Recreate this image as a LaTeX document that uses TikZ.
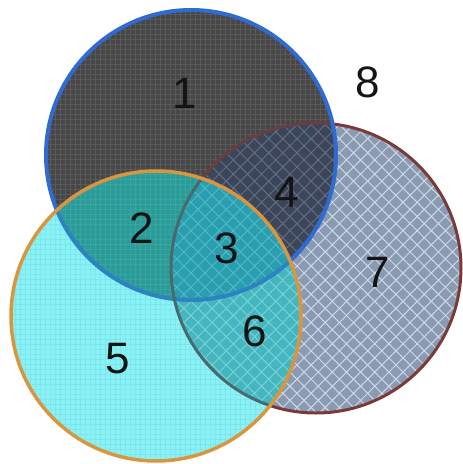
\documentclass[tikz,border=0pt]{standalone}
\usepackage{fontspec}
\setmainfont{Liberation Sans}
\usetikzlibrary{patterns.meta}
\definecolor{c7}{HTML}{8A9AB0}
\definecolor{h7}{HTML}{CDD8E8}
\definecolor{c1}{HTML}{474747}
\definecolor{g1}{HTML}{5A5A5A}
\definecolor{c4}{HTML}{3C4658}
\definecolor{h4}{HTML}{5F6E86}
\definecolor{c5}{HTML}{88F2F6}
\definecolor{g5}{HTML}{7EE6EA}
\definecolor{c2}{HTML}{2C9A96}
\definecolor{g2}{HTML}{35A6A2}
\definecolor{c6}{HTML}{45B5BE}
\definecolor{h6}{HTML}{74D2DA}
\definecolor{c3}{HTML}{2A9EAE}
\definecolor{h3}{HTML}{4FB8C6}
\definecolor{brown7}{HTML}{7A3B38}
\definecolor{blue1}{HTML}{2F6BD0}
\definecolor{orange5}{HTML}{D9963F}
\begin{document}
\begin{tikzpicture}[x=1pt,y=-1pt,
  lab/.style={font=\fontsize{44}{44}\selectfont, text=black!92, inner sep=0pt},
  cross/.style={pattern={Hatch[angle=45,distance=10pt,line width=1pt]}},
  finegrid/.style={pattern={Hatch[angle=0,distance=5pt,line width=0.35pt]}}]
\useasboundingbox (0,0) rectangle (463,464);
\def\R{145pt}
\coordinate (A) at (191,155);
\coordinate (B) at (156,316);
\coordinate (C) at (316,268);

% circle 7
\fill[c7] (C) circle[radius=\R];
\fill[cross, pattern color=h7] (C) circle[radius=\R];
\draw[brown7, line width=3pt] (C) circle[radius=\R];

% circle 1
\fill[c1] (A) circle[radius=\R];
\fill[finegrid, pattern color=g1] (A) circle[radius=\R];
\begin{scope}
  \clip (A) circle[radius=\R];
  \fill[c4] (C) circle[radius=\R];
  \fill[cross, pattern color=h4] (C) circle[radius=\R];
  \draw[brown7!70!c4, line width=3pt] (C) circle[radius=\R];
\end{scope}
\draw[blue1, line width=4pt] (A) circle[radius=\R];

% circle 5
\fill[c5] (B) circle[radius=\R];
\fill[finegrid, pattern color=g5] (B) circle[radius=\R];
\begin{scope}
  \clip (B) circle[radius=\R];
  \fill[c2] (A) circle[radius=\R];
  \fill[finegrid, pattern color=g2] (A) circle[radius=\R];
  \fill[c6] (C) circle[radius=\R];
  \fill[cross, pattern color=h6] (C) circle[radius=\R];
  \begin{scope}
    \clip (A) circle[radius=\R];
    \fill[c3] (C) circle[radius=\R];
    \fill[cross, pattern color=h3] (C) circle[radius=\R];
  \end{scope}
  \draw[blue1!55!c3, line width=4pt] (A) circle[radius=\R];
  \draw[brown7!40!c6!80!black, line width=3pt] (C) circle[radius=\R];
\end{scope}
\draw[orange5, line width=3.5pt] (B) circle[radius=\R];

% labels
\node[lab] (n1) at (185,93) {1};
\node[lab] (n8) at (368,82) {8};
\node[lab] (n4) at (287,192) {4};
\node[lab] (n2) at (142,228) {2};
\node[lab] (n3) at (227,248) {3};
\node[lab] (n7) at (378,272) {7};
\node[lab] (n6) at (255,331) {6};
\node[lab] (n5) at (118,359) {5};
\end{tikzpicture}
\end{document}
